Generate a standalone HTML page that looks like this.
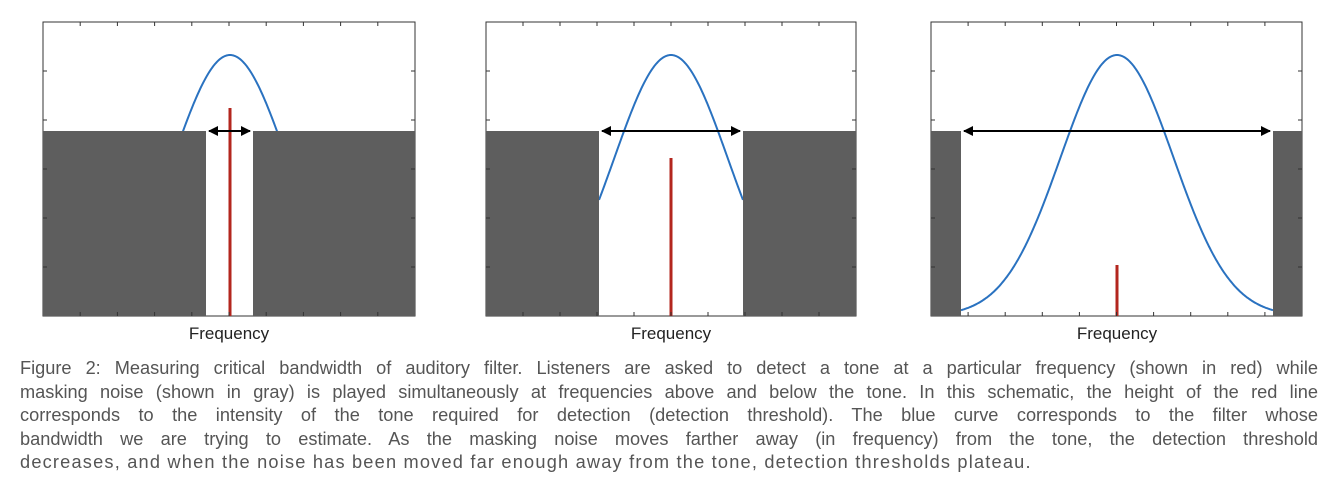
<!DOCTYPE html>
<html><head><style>
body{margin:0;width:1340px;height:502px;background:#fff;overflow:hidden;font-family:"Liberation Sans",sans-serif}
svg{position:absolute;left:0;top:0}
.cap{position:absolute;left:20px;top:357px;width:1298px;font-size:18.2px;line-height:23.6px;color:#555}
.cap div{white-space:nowrap;text-align:justify;text-align-last:justify}
.cap div.l{text-align-last:left;letter-spacing:1.2px}
</style></head><body>
<svg width="1340" height="350" xmlns="http://www.w3.org/2000/svg">
<defs>
<marker id="a" viewBox="0 0 10 10" refX="9" refY="5" markerWidth="5" markerHeight="5" orient="auto-start-reverse"><path d="M0,0L10,5L0,10z" fill="#000"/></marker>
</defs>
<g id="p1">
<rect x="43" y="22" width="372" height="294" fill="#fff" stroke="#333" stroke-width="1"/>
<path id="g1" fill="none" stroke="#2a72c0" stroke-width="2"/>
<rect x="43" y="131" width="163" height="185" fill="#5e5e5e"/>
<rect x="253" y="131" width="162" height="185" fill="#5e5e5e"/>
<line x1="230" y1="108" x2="230" y2="316" stroke="#b3261e" stroke-width="3"/>
<line x1="209" y1="131" x2="250" y2="131" stroke="#000" stroke-width="2" marker-start="url(#a)" marker-end="url(#a)"/>
<text x="229" y="339" font-size="17" text-anchor="middle" fill="#222">Frequency</text>
</g>
<g>
<rect x="486" y="22" width="370" height="294" fill="#fff" stroke="#333" stroke-width="1"/>
<path id="g2" fill="none" stroke="#2a72c0" stroke-width="2"/>
<rect x="486" y="131" width="113" height="185" fill="#5e5e5e"/>
<rect x="743" y="131" width="113" height="185" fill="#5e5e5e"/>
<line x1="671" y1="158" x2="671" y2="316" stroke="#b3261e" stroke-width="3"/>
<line x1="602" y1="131" x2="740" y2="131" stroke="#000" stroke-width="2" marker-start="url(#a)" marker-end="url(#a)"/>
<text x="671" y="339" font-size="17" text-anchor="middle" fill="#222">Frequency</text>
</g>
<g>
<rect x="931" y="22" width="371" height="294" fill="#fff" stroke="#333" stroke-width="1"/>
<path id="g3" fill="none" stroke="#2a72c0" stroke-width="2"/>
<rect x="931" y="131" width="30" height="185" fill="#5e5e5e"/>
<rect x="1273" y="131" width="29" height="185" fill="#5e5e5e"/>
<line x1="1117" y1="265" x2="1117" y2="316" stroke="#b3261e" stroke-width="3"/>
<line x1="964" y1="131" x2="1270" y2="131" stroke="#000" stroke-width="2" marker-start="url(#a)" marker-end="url(#a)"/>
<text x="1117" y="339" font-size="17" text-anchor="middle" fill="#222">Frequency</text>
</g>
<g id="ticks" stroke="#333" stroke-width="1"></g>
</svg>
<script>
function gauss(id,cx,x0,x1){let d="";for(let x=x0;x<=x1;x+=1){const y=316-261*Math.exp(-Math.pow(x-cx,2)/(2*3200));d+=(x==x0?"M":"L")+x+","+y.toFixed(1);}document.getElementById(id).setAttribute("d",d);}
gauss("g1",230,170,290);gauss("g2",671,599,743);gauss("g3",1117,961,1273);
const t=document.getElementById("ticks");let s="";
[[43,415],[486,856],[931,1302]].forEach(([a,b])=>{const w=(b-a)/10;for(let i=1;i<10;i++){const x=a+w*i;s+=`<line x1="${x}" y1="22" x2="${x}" y2="26"/><line x1="${x}" y1="316" x2="${x}" y2="312"/>`;}
for(let j=1;j<6;j++){const y=22+49*j;s+=`<line x1="${a}" y1="${y}" x2="${a+4}" y2="${y}"/><line x1="${b}" y1="${y}" x2="${b-4}" y2="${y}"/>`;}});
t.innerHTML=s;
</script>
<div class="cap">
<div>Figure 2: Measuring critical bandwidth of auditory filter. Listeners are asked to detect a tone at a particular frequency (shown in red) while</div>
<div>masking noise (shown in gray) is played simultaneously at frequencies above and below the tone. In this schematic, the height of the red line</div>
<div>corresponds to the intensity of the tone required for detection (detection threshold). The blue curve corresponds to the filter whose</div>
<div>bandwidth we are trying to estimate. As the masking noise moves farther away (in frequency) from the tone, the detection threshold</div>
<div class="l">decreases, and when the noise has been moved far enough away from the tone, detection thresholds plateau.</div>
</div>
</body></html>
